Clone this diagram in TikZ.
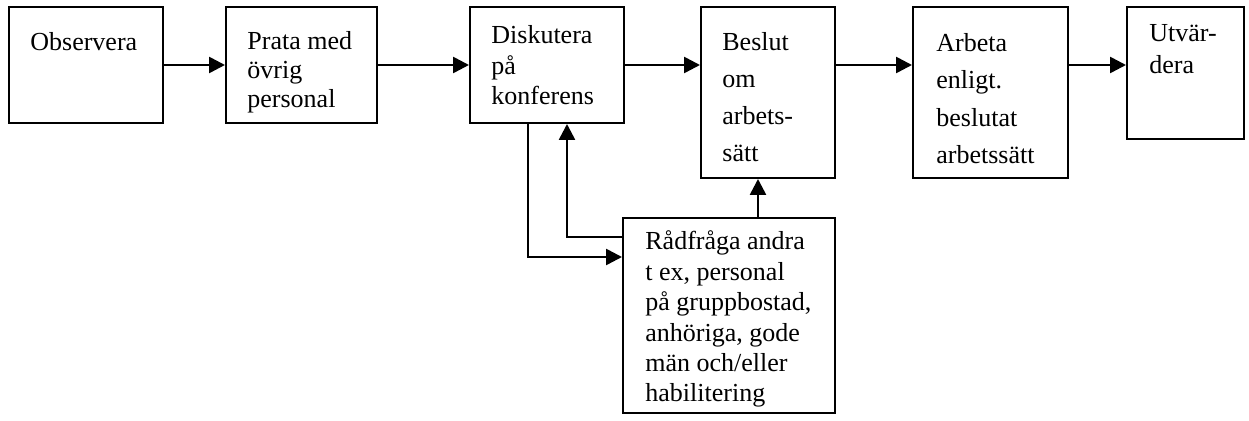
\documentclass[tikz,border=0pt]{standalone}
\usepackage{fontspec}
\setmainfont{Liberation Serif}
\usetikzlibrary{fit,arrows.meta}
\tikzset{
  box/.style={draw, line width=1pt, inner sep=0pt},
  txt/.style={anchor=base west, inner sep=0pt, align=left},
  arr/.style={line width=1.3pt, -{Triangle[length=8pt,width=8pt]}}
}
\newcommand{\fs}[1]{\fontsize{13}{#1}\selectfont}
\begin{document}
\begin{tikzpicture}[x=0.5pt,y=-0.5pt]
\useasboundingbox (0,0) rectangle (1249,421);
% boxes
\node[box, fit={(9,7) (163,123)}] (obs) {};
\node[box, fit={(226,7) (377,123)}] (prata) {};
\node[box, fit={(470,7) (624,123)}] (disk) {};
\node[box, fit={(701,7) (835,178)}] (beslut) {};
\node[box, fit={(913,7) (1068,178)}] (arbeta) {};
\node[box, fit={(1127,7) (1244,139)}] (utv) {};
\node[box, fit={(623,218) (835,413)}] (rad) {};
% texts (anchored at the baseline of their last line)
\node[txt, font=\fs{14.5}] (tobs) at (30,51) {Observera};
\node[txt, font=\fs{14.5}] (tprata) at (247,108) {Prata med\\övrig\\personal};
\node[txt, font=\fs{15.25}] (tdisk) at (491,105) {Diskutera\\på\\konferens};
\node[txt, font=\fs{18.6}] (tbeslut) at (722,162) {Beslut\\om\\arbets-\\sätt};
\node[txt, font=\fs{18.8}] (tarbeta) at (936,164) {Arbeta\\enligt.\\beslutat\\arbetssätt};
\node[txt, font=\fs{16.2}] (tutv) at (1149,74) {Utvär-\\dera};
\node[txt, font=\fs{15.2}] (trad) at (645,402) {Rådfråga andra\\t ex, personal\\på gruppbostad,\\anhöriga, gode\\män och/eller\\habilitering};
% helper coordinates
\coordinate (dl) at (528,257);
\coordinate (ul) at (567,237);
\coordinate (bu) at (758,0);
% connectors
\draw[arr] (obs.east) -- (prata.west);
\draw[arr] (prata.east) -- (disk.west);
\draw[arr] (disk.east) -- (disk.east -| beslut.west);
\draw[arr] (beslut.east |- obs.east) -- (arbeta.west |- obs.east);
\draw[arr] (arbeta.east |- obs.east) -- (utv.west |- obs.east);
\draw[arr] (dl |- disk.south) -- (dl) -- (dl -| rad.west);
\draw[arr] (ul -| rad.west) -- (ul) -- (ul |- disk.south);
\draw[arr] (bu |- rad.north) -- (bu |- beslut.south);
\end{tikzpicture}
\end{document}
